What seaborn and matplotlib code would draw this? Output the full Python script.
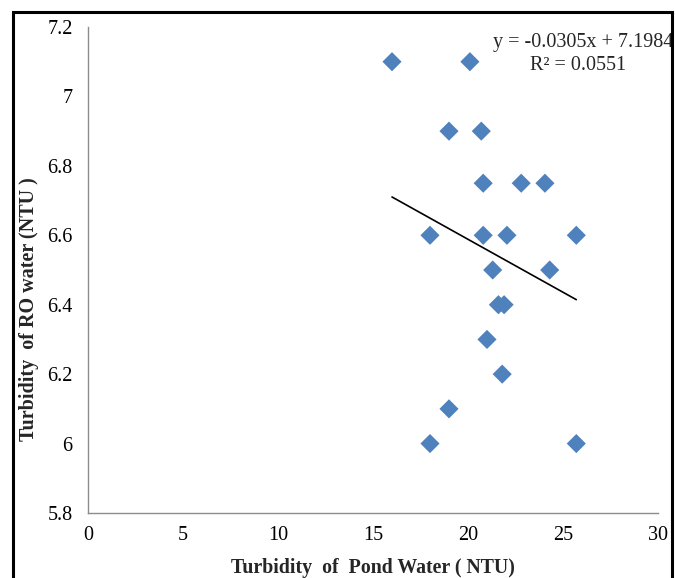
import numpy as np
import pandas as pd
import matplotlib
matplotlib.use("Agg")
import matplotlib.pyplot as plt
import seaborn as sns
from matplotlib.patches import Rectangle

# Data
pond_turbidity = [16.0, 20.1, 19.0, 20.7, 20.8, 22.8, 24.05, 18.0, 20.8, 22.05,
                  25.7, 21.3, 24.3, 21.6, 21.9, 21.0, 21.8, 19.0, 18.0, 25.7]
ro_turbidity = [7.1, 7.1, 6.9, 6.9, 6.75, 6.75, 6.75, 6.6, 6.6, 6.6,
                6.6, 6.5, 6.5, 6.4, 6.4, 6.3, 6.2, 6.1, 6.0, 6.0]
trend_slope = -0.0305
trend_intercept = 7.1984
r_squared = 0.0551
x_ticks = [0, 5, 10, 15, 20, 25, 30]
y_ticks = [5.8, 6.0, 6.2, 6.4, 6.6, 6.8, 7.0, 7.2]
y_tick_labels = ["5.8", "6", "6.2", "6.4", "6.6", "6.8", "7", "7.2"]

sns.set_theme(style="white")
plt.rcParams["font.family"] = ["Liberation Serif", "DejaVu Serif"]

df = pd.DataFrame({"pond": pond_turbidity, "ro": ro_turbidity})
x_line = np.array([min(pond_turbidity), max(pond_turbidity)])
line_df = pd.DataFrame({"x": x_line, "y": trend_slope * x_line + trend_intercept})

W, H = 675, 578
fig = plt.figure(figsize=(W / 100, H / 100), dpi=100)
ax = fig.add_axes([88 / W, 1 - 513 / H, (658 - 88) / W, (513 - 27) / H])

sns.scatterplot(data=df, x="pond", y="ro", marker="D", s=95, color="#4F81BD",
                edgecolor="none", linewidth=0, ax=ax, zorder=3)
sns.lineplot(data=line_df, x="x", y="y", color="black", linewidth=1.2, ax=ax, zorder=2)

ax.set_xlim(0, 30)
ax.set_ylim(5.8, 7.2)
ax.set_xticks(x_ticks)
ax.set_yticks(y_ticks)
ax.set_yticklabels(y_tick_labels)

grey = "#8c8c8c"
for side in ["top", "right"]:
    ax.spines[side].set_visible(False)
for side in ["left", "bottom"]:
    ax.spines[side].set_color(grey)
    ax.spines[side].set_linewidth(1.0)
ax.tick_params(axis="both", which="major", direction="out", length=5, width=1.0,
               color=grey, labelsize=14.5, labelcolor="black", pad=4)
ax.tick_params(axis="y", pad=6)

ax.set_xlabel("Turbidity  of  Pond Water ( NTU)", fontsize=14.3, fontweight="bold", labelpad=10)
ax.set_ylabel("Turbidity  of RO water (NTU )", fontsize=14.5, fontweight="bold")
ax.yaxis.set_label_coords(-0.086, 0.42)

fig.text(493 / W, 1 - 43 / H, "y = -0.0305x + 7.1984", fontsize=14.5, ha="left", va="center")
fig.text(530 / W, 1 - 65 / H, "R² = 0.0551", fontsize=14.5, ha="left", va="center")

# outer border
fig.patches.append(Rectangle((13 / W, -0.05), (672 - 13) / W, 1 - 12 / H + 0.05,
                             transform=fig.transFigure, fill=False,
                             edgecolor="black", linewidth=2.2, zorder=10))

fig.savefig("out.png", dpi=100)
